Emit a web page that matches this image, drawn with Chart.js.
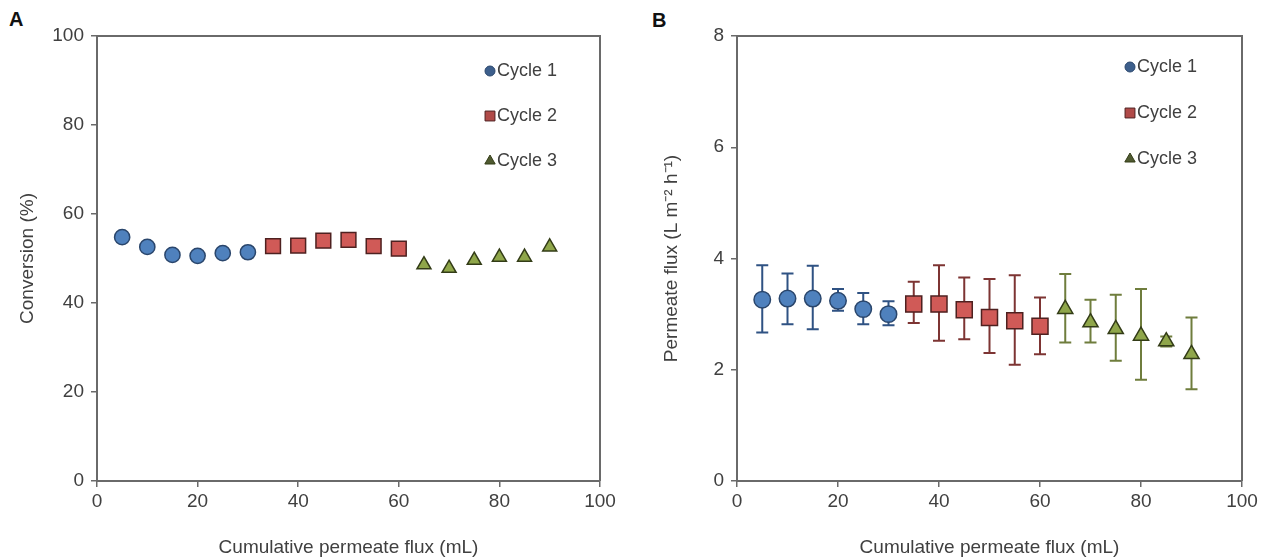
<!DOCTYPE html>
<html>
<head>
<meta charset="utf-8">
<title>Conversion and permeate flux over three cycles</title>
<script src="https://cdn.jsdelivr.net/npm/chart.js@4.4.0/dist/chart.umd.min.js"></script>
<style>
    body { margin: 0; background: #fff; }
    #wrap { position: relative; width: 1264px; height: 560px; overflow: hidden; }
    canvas { position: absolute; top: 0; }
    #chartA { left: 0; }
    #chartB { left: 640px; }
    .panel { position: absolute; font: bold 20px "Liberation Sans", Arial, sans-serif; color: #111; }
</style>
</head>
<body>
<div id="wrap">
    <div class="panel" style="left:9px; top:8px;">A</div>
    <div class="panel" style="left:652px; top:9px;">B</div>
    <canvas id="chartA" width="640" height="560"></canvas>
    <canvas id="chartB" width="624" height="560"></canvas>
</div>
<script>
// ---- data ----
const cycleLabels = ['Cycle 1', 'Cycle 2', 'Cycle 3'];

const cycle1X = [5, 10, 15, 20, 25, 30];
const cycle2X = [35, 40, 45, 50, 55, 60];
const cycle3X = [65, 70, 75, 80, 85, 90];

// panel A: conversion (%)
const conversion1 = [54.8, 52.6, 50.8, 50.6, 51.2, 51.4];
const conversion2 = [52.8, 52.9, 54.0, 54.2, 52.8, 52.2];
const conversion3 = [48.6, 47.8, 49.6, 50.3, 50.3, 52.6];

// panel B: permeate flux (L m-2 h-1) with error bar ends
const flux1 = [3.26, 3.28, 3.28, 3.24, 3.09, 3.00];
const flux1Upper = [3.88, 3.73, 3.87, 3.45, 3.38, 3.23];
const flux1Lower = [2.67, 2.82, 2.73, 3.06, 2.82, 2.80];
const flux2 = [3.18, 3.18, 3.08, 2.94, 2.88, 2.78];
const flux2Upper = [3.58, 3.88, 3.66, 3.63, 3.70, 3.30];
const flux2Lower = [2.84, 2.52, 2.55, 2.30, 2.09, 2.28];
const flux3 = [3.09, 2.85, 2.73, 2.61, 2.51, 2.28];
const flux3Upper = [3.72, 3.26, 3.35, 3.45, 2.60, 2.94];
const flux3Lower = [2.49, 2.49, 2.16, 1.82, 2.42, 1.65];

const xTicks = [0, 20, 40, 60, 80, 100];
const conversionTicks = [0, 20, 40, 60, 80, 100];
const fluxTicks = [0, 2, 4, 6, 8];

// ---- look ----
const FONT = '"Liberation Sans", Arial, sans-serif';
const TEXT = '#404040';
const AXIS = '#6a6a6a';

const cycleStyles = [
    { pointStyle: 'circle',   fill: '#4f81bd', border: '#2a466c', bar: '#2f5283', legend: '#3d5f8c', radius: 8, legendRadius: 5 },
    { pointStyle: 'rect',     fill: '#d05a57', border: '#4e2120', bar: '#7d3433', legend: '#b04a48', radius: 11, legendRadius: 7 },
    { pointStyle: 'triangle', fill: '#8fa64a', border: '#333c17', bar: '#6f7d3d', legend: '#4f5a30', radius: 8.5, legendRadius: 6 }
];

const toPoints = (xs, ys) => xs.map((x, i) => ({ x, y: ys[i] }));

function buildDatasets(series, upper, lower, radiusScale) {
    return series.map((values, i) => {
        const st = cycleStyles[i];
        return {
            label: cycleLabels[i],
            data: toPoints([cycle1X, cycle2X, cycle3X][i], values),
            pointStyle: st.pointStyle,
            pointRadius: st.radius * radiusScale,
            pointHoverRadius: st.radius * radiusScale,
            backgroundColor: st.fill,
            borderColor: st.border,
            pointBorderWidth: 1.5,
            showLine: false,
            yUpper: upper ? upper[i] : null,
            yLower: lower ? lower[i] : null
        };
    });
}

// error bars, drawn under the markers
const errorBars = {
    id: 'errorBars',
    beforeDatasetsDraw(chart) {
        const { ctx, scales: { x, y } } = chart;
        chart.data.datasets.forEach((ds, i) => {
            if (!ds.yUpper) return;
            ctx.save();
            ctx.strokeStyle = cycleStyles[i].bar;
            ctx.lineWidth = 2;
            ds.data.forEach((p, j) => {
                const px = x.getPixelForValue(p.x);
                const top = y.getPixelForValue(ds.yUpper[j]);
                const bot = y.getPixelForValue(ds.yLower[j]);
                ctx.beginPath();
                ctx.moveTo(px, top); ctx.lineTo(px, bot);
                ctx.moveTo(px - 6, top); ctx.lineTo(px + 6, top);
                ctx.moveTo(px - 6, bot); ctx.lineTo(px + 6, bot);
                ctx.stroke();
            });
            ctx.restore();
        });
    }
};

// box around the plot area
const frame = {
    id: 'frame',
    afterDraw(chart) {
        const { ctx, chartArea: a } = chart;
        ctx.save();
        ctx.strokeStyle = AXIS;
        ctx.lineWidth = 2;
        ctx.beginPath();
        ctx.moveTo(a.left, a.top); ctx.lineTo(a.right, a.top); ctx.lineTo(a.right, a.bottom);
        ctx.stroke();
        ctx.restore();
    }
};

// legend in the upper right of the plot area
const cornerLegend = {
    id: 'cornerLegend',
    afterDraw(chart, args, opts) {
        const { ctx, chartArea: a } = chart;
        ctx.save();
        ctx.font = '18px ' + FONT;
        ctx.textBaseline = 'middle';
        cycleLabels.forEach((label, i) => {
            const st = cycleStyles[i];
            const mx = a.right - opts.fromRight;
            const my = a.top + opts.firstY + i * opts.gap;
            ctx.fillStyle = st.legend;
            ctx.strokeStyle = st.border;
            ctx.lineWidth = 1;
            Chart.helpers.drawPoint(ctx, { pointStyle: st.pointStyle, radius: st.legendRadius, rotation: 0, borderWidth: 1 }, mx, my);
            ctx.fillStyle = TEXT;
            ctx.fillText(label, mx + 7, my);
        });
        ctx.restore();
    }
};

function axis(ticks, title, titleOffset, horizontal) {
    return {
        type: 'linear',
        min: ticks[0],
        max: ticks[ticks.length - 1],
        afterBuildTicks: s => { s.ticks = ticks.map(v => ({ value: v })); },
        afterFit: s => { if (horizontal) s.height = 79; else s.width = 97; },
        border: { display: true, color: AXIS, width: 2 },
        grid: { display: true, drawOnChartArea: false, drawTicks: true, tickLength: 6, tickColor: AXIS, lineWidth: 1.5 },
        ticks: { color: TEXT, font: { family: FONT, size: 19 }, padding: horizontal ? 3 : 7, maxRotation: 0 },
        title: {
            display: true,
            text: title,
            color: TEXT,
            font: { family: FONT, size: 19 },
            padding: horizontal ? { top: 0, bottom: titleOffset } : { top: titleOffset, bottom: 0 }
        }
    };
}

function makeChart(id, datasets, yTicks, yTitle, yTitleOffset, padRight, legendOpts) {
    return new Chart(document.getElementById(id), {
        type: 'scatter',
        data: { datasets },
        options: {
            responsive: false,
            animation: false,
            layout: { padding: { top: 36, right: padRight, bottom: 0, left: 0 } },
            scales: {
                x: axis(xTicks, 'Cumulative permeate flux (mL)', 1, true),
                y: axis(yTicks, yTitle, yTitleOffset, false)
            },
            plugins: {
                legend: { display: false },
                tooltip: { enabled: false },
                cornerLegend: legendOpts
            }
        },
        plugins: [errorBars, frame, cornerLegend]
    });
}

makeChart('chartA',
    buildDatasets([conversion1, conversion2, conversion3], null, null, 0.95),
    conversionTicks, 'Conversion (%)', 16, 40,
    { fromRight: 110, firstY: 35, gap: 45 });

makeChart('chartB',
    buildDatasets([flux1, flux2, flux3], [flux1Upper, flux2Upper, flux3Upper], [flux1Lower, flux2Lower, flux3Lower], 1.03),
    fluxTicks, 'Permeate flux (L m\u207B\u00B2 h\u207B\u00B9)', 20, 22,
    { fromRight: 112, firstY: 31, gap: 46 });
</script>
</body>
</html>
